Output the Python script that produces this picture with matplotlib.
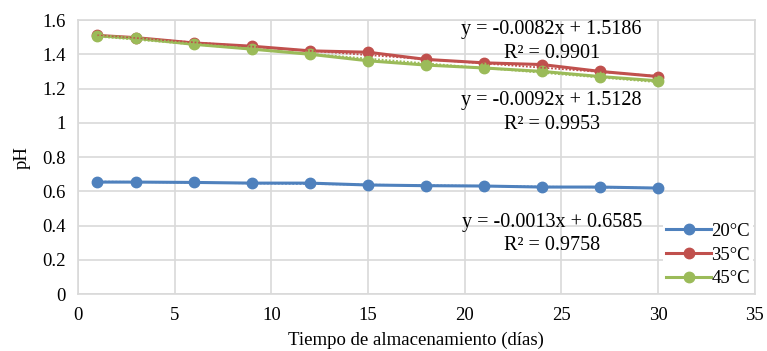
import numpy as np
import matplotlib.pyplot as plt
from matplotlib.ticker import FuncFormatter

# storage time (days) and pH readings per temperature
dias = [1, 3, 6, 9, 12, 15, 18, 21, 24, 27, 30]
ph_20 = [0.654, 0.654, 0.652, 0.648, 0.648, 0.637, 0.633, 0.631, 0.625, 0.625, 0.619]
ph_35 = [1.510, 1.497, 1.466, 1.447, 1.420, 1.412, 1.370, 1.350, 1.340, 1.300, 1.270]
ph_45 = [1.508, 1.493, 1.458, 1.430, 1.400, 1.362, 1.337, 1.320, 1.300, 1.270, 1.245]
etiquetas = ['20°C', '35°C', '45°C']

# Excel trendlines (slope, intercept, R2)
pendientes = [-0.0013, -0.0082, -0.0092]
intercepts = [0.6585, 1.5186, 1.5128]
r2 = [0.9758, 0.9901, 0.9953]

colores = ['#4f81bd', '#c0504d', '#9bbb59']

plt.rcParams['font.family'] = ['Liberation Serif', 'DejaVu Serif']

fig = plt.figure(figsize=(7.67, 3.51), dpi=100)
ax = fig.add_axes([0.1017, 0.162, 0.8823, 0.781])

series = [ph_20, ph_35, ph_45]
for ys, c, lab in zip(series, colores, etiquetas):
    ax.plot(dias, ys, '-o', color=c, lw=2.2, markersize=7.5, label=lab, zorder=3)

# trend lines
xt = np.array([dias[0], dias[-1]])
for m, b, c in zip(pendientes, intercepts, colores):
    ax.plot(xt, m*xt + b, linestyle=(0, (1, 1)), color=c, lw=1.3, zorder=4)

# equation labels
pos = [(24.5, 0.35), (24.5, 1.475), (24.5, 1.06)]
for (px, py), m, b, r in zip(pos, pendientes, intercepts, r2):
    txt = 'y = %.4fx + %.4f\nR² = %.4f' % (m, b, r)
    ax.text(px, py, txt, ha='center', va='center', multialignment='center',
            fontsize=14.5, linespacing=1.3, zorder=5)

ax.set_xlim(0, 35)
ax.set_ylim(0, 1.6)
ax.set_xticks(np.arange(0, 36, 5))
ax.set_yticks(np.arange(0, 1.61, 0.2))
ax.yaxis.set_major_formatter(FuncFormatter(lambda v, p: '%g' % round(v, 1)))
ax.grid(True, color='#d9d9d9', lw=1.2)
ax.set_axisbelow(True)
for s in ax.spines.values():
    s.set_color('#d9d9d9')
    s.set_linewidth(1.2)
ax.tick_params(length=0, labelsize=13.5, pad=9)

ax.set_xlabel('Tiempo de almacenamiento (días)', fontsize=13.5, labelpad=6)
ax.set_ylabel('pH', fontsize=13.5, labelpad=8)

leg = ax.legend(loc='lower right', bbox_to_anchor=(0.997, 0.015), frameon=True, fontsize=13.5,
                handlelength=2.4, handletextpad=0.0, borderpad=0.15, labelspacing=0.35,
                borderaxespad=0)
leg.get_frame().set_edgecolor('none')
leg.get_frame().set_facecolor('white')
leg.get_frame().set_alpha(1)

plt.savefig('out.png')
